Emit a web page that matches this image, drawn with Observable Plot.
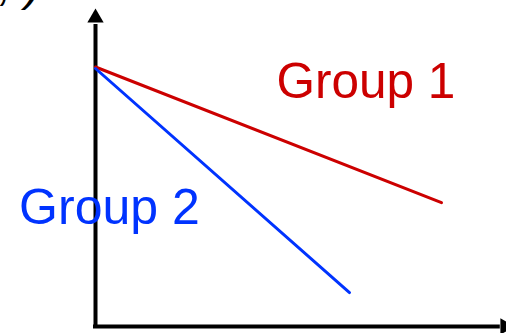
<!DOCTYPE html>
<html>
<head>
<meta charset="utf-8">
<script src="https://cdn.jsdelivr.net/npm/d3@7"></script>
<script src="https://cdn.jsdelivr.net/npm/@observablehq/plot@0.6"></script>
<style>
  html, body { margin: 0; padding: 0; background: #fff; }
  #chart { width: 506px; height: 333px; overflow: hidden; }
</style>
</head>
<body>
<div id="chart"></div>
<script>
// Series (time on x, value on y)
const seriesNames = ["Group 1", "Group 2"];
const seriesColors = ["#cc0000", "#0033ff"];
const timeG1 = [0, 8.65];
const valueG1 = [8.65, 4.13];
const timeG2 = [0, 6.35];
const valueG2 = [8.6, 1.13];
// Label anchor positions (data units)
const labelX = [4.525, -1.91];
const labelY = [7.62, 3.43];
const labelSize = [49.5, 50];
const yAxisTitle = "S(x,t)";

const g1 = timeG1.map((t, i) => ({t, v: valueG1[i], s: seriesNames[0]}));
const g2 = timeG2.map((t, i) => ({t, v: valueG2[i], s: seriesNames[1]}));
const labels = seriesNames.map((s, i) => ({s, x: labelX[i], y: labelY[i], c: seriesColors[i], f: labelSize[i]}));

const chart = Plot.plot({
  width: 506,
  height: 333,
  marginLeft: 95,
  marginRight: 11,
  marginTop: 26,
  marginBottom: 7,
  style: {fontFamily: "'Liberation Sans', Arial, sans-serif", background: "white", overflow: "visible"},
  x: {domain: [0, 10], axis: null},
  y: {domain: [0, 10], axis: null},
  marks: [
    // axes
    Plot.ruleX([0], {y1: -0.07, y2: 10.07, stroke: "black", strokeWidth: 4}),
    Plot.ruleY([0], {x1: -0.05, x2: 10.12, stroke: "black", strokeWidth: 4}),
    Plot.dot([0], {x: 0, y: 10.29, symbol: "triangle", r: 6.05, fill: "black"}),
    Plot.dot([0], {x: 10.24, y: 0, symbol: "triangle", r: 6.05, rotate: 90, fill: "black"}),
    // series
    Plot.line(g1, {x: "t", y: "v", stroke: seriesColors[0], strokeWidth: 3}),
    Plot.line(g2, {x: "t", y: "v", stroke: seriesColors[1], strokeWidth: 3}),
    // labels
    Plot.text(labels.slice(0, 1), {x: "x", y: "y", text: "s", fill: "c", fontSize: labelSize[0], textAnchor: "start", lineAnchor: "bottom"}),
    Plot.text(labels.slice(1, 2), {x: "x", y: "y", text: "s", fill: "c", fontSize: labelSize[1], textAnchor: "start", lineAnchor: "bottom"}),
    Plot.text([yAxisTitle], {x: -1.35, y: 10.87, text: d => d, fontSize: 48, fontStyle: "italic", textAnchor: "end", lineAnchor: "bottom", fill: "black"})
  ]
});
document.getElementById("chart").appendChild(chart);
</script>
</body>
</html>
